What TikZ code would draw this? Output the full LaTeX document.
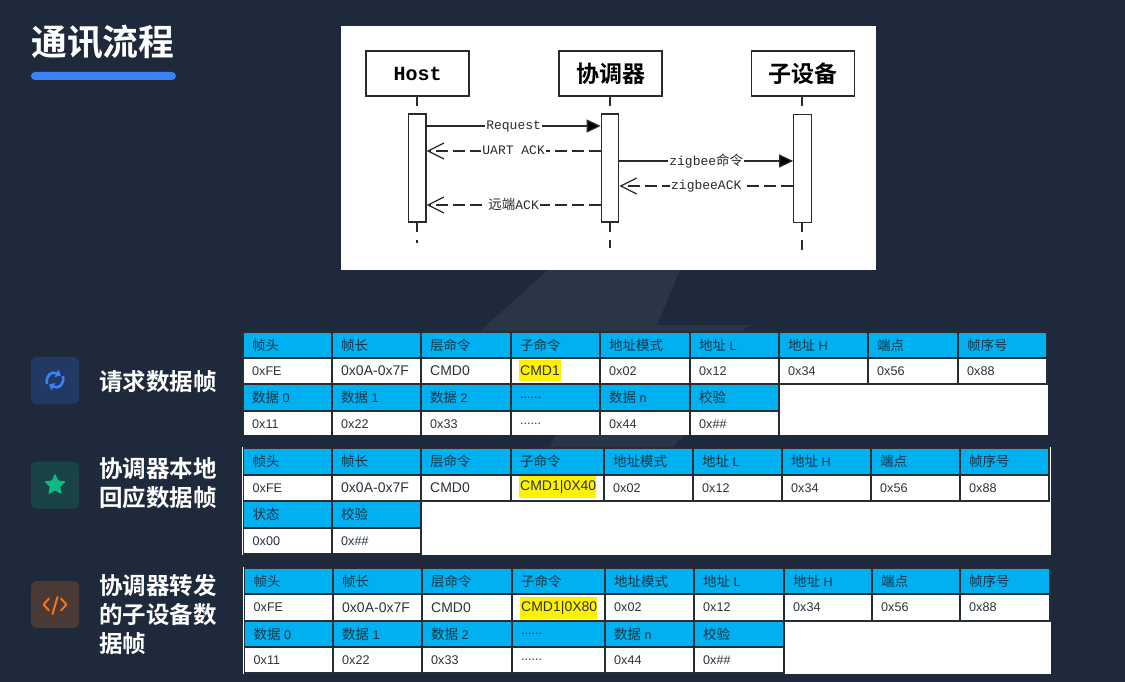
\documentclass[tikz,border=0pt]{standalone}
\usepackage{fontspec}
\setmainfont{Liberation Sans}
\newfontfamily\cjk{Noto Sans CJK SC}
\newfontfamily\cjkb{Noto Sans CJK SC Bold}
\newfontfamily\seqmono{Liberation Mono}
\usetikzlibrary{arrows.meta,shapes.geometric}
\definecolor{bgc}{HTML}{1E293B}
\definecolor{wmc}{HTML}{2A3646}
\definecolor{accent}{HTML}{3B82F6}
\definecolor{hdc}{HTML}{00B0F0}
\definecolor{cellline}{HTML}{262E33}
\definecolor{hdtext}{HTML}{153447}
\definecolor{bodytext}{HTML}{2B323C}
\definecolor{seqline}{HTML}{2A2A2A}
\definecolor{iconb}{HTML}{223A63}
\definecolor{icong}{HTML}{1A4347}
\definecolor{icono}{HTML}{4A3A35}
\definecolor{greenc}{HTML}{10B981}
\definecolor{orangec}{HTML}{F97316}
\newcommand{\hcell}[6]{%
  \draw[hcellbox] (#2,#3) rectangle (#4,#5);
  \node[celltext,text=hdtext] (#1) at (#2+9,{(#3+#5)/2}) {#6};}
\newcommand{\bcell}[6]{%
  \draw[bcellbox] (#2,#3) rectangle (#4,#5);
  \node[celltext,text=bodytext] (#1) at (#2+9,{(#3+#5)/2}) {#6};}
\newcommand{\zh}[1]{{\cjk\fontsize{13.5}{15}\selectfont #1}}
\newcommand{\widetxt}[1]{{\fontsize{14}{15}\selectfont #1}}
\tikzset{
  x=1pt,y=-1pt,
  hcellbox/.style={fill=hdc,draw=cellline,line width=1.1pt},
  bcellbox/.style={fill=white,draw=cellline,line width=1.1pt},
  celltext/.style={anchor=west,inner sep=0pt,font=\fontsize{12.6}{14}\selectfont},
  rowlabel/.style={anchor=west,inner sep=0pt,align=left,text=white,font=\cjkb\fontsize{23.5}{28.8}\selectfont},
  iconbox/.style={rounded corners=6pt,minimum width=48pt,minimum height=47pt,inner sep=0pt},
  lifebox/.style={draw=seqline,line width=1.2pt,fill=white,minimum width=103pt,minimum height=45pt,inner sep=0pt},
  actbox/.style={draw=seqline,line width=1.2pt,fill=white,minimum width=17.5pt,minimum height=108pt,inner sep=0pt},
  lifeline/.style={draw=seqline,line width=1.2pt,dash pattern=on 10pt off 8pt},
  callarrow/.style={draw=seqline,line width=1.2pt,-{Triangle[length=14pt,width=13pt,fill=black]}},
  backarrow/.style={draw=seqline,line width=1.2pt,dash pattern=on 12pt off 5pt,-{Straight Barb[length=16pt,width=16pt,line width=1.2pt]}},
  seqlabel/.style={fill=white,inner sep=1pt,text=seqline,font=\seqmono\fontsize{13}{15}\selectfont},
  syncarrow/.style={draw=accent,line width=2.6pt,-{Triangle[length=5pt,width=8pt]}},
}
\begin{document}
\begin{tikzpicture}
\useasboundingbox (0,0) rectangle (1125,682);
\fill[bgc] (0,0) rectangle (1125,682);
% watermark
\fill[wmc] (480,331) -- (548,270) -- (680,270) -- (657,325) -- (750,325) -- (742,331) -- cycle;
\fill[wmc] (558,430) -- (549,450) -- (670,450) -- (688,430) -- cycle;
% title
\node[anchor=west,inner sep=0pt,text=white,font=\cjkb\fontsize{35.8}{40}\selectfont] (title) at (31,42) {通讯流程};
\node[fill=accent,rounded corners=4pt,minimum width=145pt,minimum height=8pt,inner sep=0pt] (titlebar) at (103.5,76) {};
% sequence diagram panel
\fill[white] (341,26) rectangle (876,270);
\draw[lifeline] (417,96) -- (417,243);
\draw[lifeline] (610,96) -- (610,248);
\draw[lifeline] (802,96) -- (802,250);
\node[lifebox,font=\seqmono\bfseries\fontsize{20}{22}\selectfont,text=black] (host) at (417.5,73.5) {Host};
\node[lifebox,font=\cjkb\fontsize{23}{25}\selectfont,text=black] (coord) at (610.5,73.5) {协调器};
\node[lifebox,font=\cjkb\fontsize{23}{25}\selectfont,text=black] (sub) at (803,73.5) {子设备};
\node[actbox] (a1) at (417.25,168) {};
\node[actbox] (a2) at (610,168) {};
\node[actbox] (a3) at (802.5,168.5) {};
\draw[callarrow] (a1.east |- 0,126) -- node[seqlabel,yshift=-0.5pt] (l1) {Request} (a2.west |- 0,126);
\draw[backarrow] (a2.west |- 0,151) -- node[seqlabel,yshift=0.5pt] (l2) {UART ACK} (a1.east |- 0,151);
\draw[callarrow] (a2.east |- 0,161) -- node[seqlabel] (l3) {zigbee{\cjk\fontsize{13.5}{15}\selectfont 命令}} (a3.west |- 0,161);
\draw[backarrow] (a3.west |- 0,186) -- node[seqlabel] (l4) {zigbeeACK} (a2.east |- 0,186);
\draw[backarrow] (a2.west |- 0,205) -- node[seqlabel,yshift=0.5pt] (l5) {{\cjk\fontsize{13.5}{15}\selectfont 远端}ACK} (a1.east |- 0,205);
% row icons
\node[iconbox,fill=iconb] (ic1) at (55,380.5) {};
\draw[syncarrow] (47,384) .. controls (45.5,376) and (51,370.5) .. (61,375.5);
\draw[syncarrow] (63,376) .. controls (64.5,384) and (59,389.5) .. (49,384.5);
\node[iconbox,fill=icong] (ic2) at (55,485) {};
\node[star,star points=5,star point ratio=2.1,fill=greenc,minimum size=23pt,inner sep=0pt,rounded corners=1pt] (starico) at (55,485) {};
\node[iconbox,fill=icono] (ic3) at (55,604.5) {};
\draw[orangec,line width=2pt,line cap=round,line join=round] (49,598.5) -- (43.5,604.5) -- (49,610.5);
\draw[orangec,line width=2pt,line cap=round,line join=round] (61,598.5) -- (66.5,604.5) -- (61,610.5);
\draw[orangec,line width=2pt,line cap=round] (57.5,597) -- (52.5,614);
% row labels
\node[rowlabel] (r1) at (99,382) {请求数据帧};
\node[rowlabel] (r2) at (99,483) {协调器本地\\回应数据帧};
\node[rowlabel] (r3) at (99,614.5) {协调器转发\\的子设备数\\据帧};
% table 1
\fill[white] (242,331) rectangle (1048,435);
\hcell{a1h}{243}{332}{332}{358}{\zh{帧头}}
\hcell{a2h}{332}{332}{421}{358}{\zh{帧长}}
\hcell{a3h}{421}{332}{511}{358}{\zh{层命令}}
\hcell{a4h}{511}{332}{600}{358}{\zh{子命令}}
\hcell{a5h}{600}{332}{690}{358}{\zh{地址模式}}
\hcell{a6h}{690}{332}{779}{358}{\zh{地址} L}
\hcell{a7h}{779}{332}{868}{358}{\zh{地址} H}
\hcell{a8h}{868}{332}{958}{358}{\zh{端点}}
\hcell{a9h}{958}{332}{1047}{358}{\zh{帧序号}}
\bcell{a1b}{243}{358}{332}{384}{0xFE}
\bcell{a2b}{332}{358}{421}{384}{\widetxt{0x0A-0x7F}}
\bcell{a3b}{421}{358}{511}{384}{\widetxt{CMD0}}
\bcell{a4b}{511}{358}{600}{384}{}
\fill[yellow] (519,360) rectangle (561,381);
\node[celltext,text=bodytext] (a4c) at (520,370.5) {\widetxt{CMD1}};
\bcell{a5b}{600}{358}{690}{384}{0x02}
\bcell{a6b}{690}{358}{779}{384}{0x12}
\bcell{a7b}{779}{358}{868}{384}{0x34}
\bcell{a8b}{868}{358}{958}{384}{0x56}
\bcell{a9b}{958}{358}{1047}{384}{0x88}
\hcell{b1h}{243}{384}{332}{411}{\zh{数据} 0}
\hcell{b2h}{332}{384}{421}{411}{\zh{数据} 1}
\hcell{b3h}{421}{384}{511}{411}{\zh{数据} 2}
\hcell{b4h}{511}{384}{600}{411}{......}
\hcell{b5h}{600}{384}{690}{411}{\zh{数据} n}
\hcell{b6h}{690}{384}{779}{411}{\zh{校验}}
\bcell{b1b}{243}{411}{332}{437}{0x11}
\bcell{b2b}{332}{411}{421}{437}{0x22}
\bcell{b3b}{421}{411}{511}{437}{0x33}
\bcell{b4b}{511}{411}{600}{437}{......}
\bcell{b5b}{600}{411}{690}{437}{0x44}
\bcell{b6b}{690}{411}{779}{437}{0x\#\#}
\fill[bgc] (240,435) rectangle (1050,440);
\fill[wmc] (557,435) -- (553,440) -- (680,440) -- (685,435) -- cycle;
% table 2
\fill[white] (242,447) rectangle (1051,555);
\hcell{c1h}{243.5}{448}{332}{475}{\zh{帧头}}
\hcell{c2h}{332}{448}{421}{475}{\zh{帧长}}
\hcell{c3h}{421}{448}{511}{475}{\zh{层命令}}
\hcell{c4h}{511}{448}{604}{475}{\zh{子命令}}
\hcell{c5h}{604}{448}{693}{475}{\zh{地址模式}}
\hcell{c6h}{693}{448}{782}{475}{\zh{地址} L}
\hcell{c7h}{782}{448}{871}{475}{\zh{地址} H}
\hcell{c8h}{871}{448}{960}{475}{\zh{端点}}
\hcell{c9h}{960}{448}{1049}{475}{\zh{帧序号}}
\bcell{c1b}{243.5}{475}{332}{501}{0xFE}
\bcell{c2b}{332}{475}{421}{501}{\widetxt{0x0A-0x7F}}
\bcell{c3b}{421}{475}{511}{501}{\widetxt{CMD0}}
\bcell{c4b}{511}{475}{604}{501}{}
\fill[yellow] (519,476) rectangle (596,498);
\node[celltext,text=bodytext] (c4c) at (520,487) {\widetxt{CMD1|0X40}};
\bcell{c5b}{604}{475}{693}{501}{0x02}
\bcell{c6b}{693}{475}{782}{501}{0x12}
\bcell{c7b}{782}{475}{871}{501}{0x34}
\bcell{c8b}{871}{475}{960}{501}{0x56}
\bcell{c9b}{960}{475}{1049}{501}{0x88}
\hcell{d1h}{243.5}{501}{332}{528}{\zh{状态}}
\hcell{d2h}{332}{501}{421}{528}{\zh{校验}}
\bcell{d1b}{243.5}{528}{332}{554}{0x00}
\bcell{d2b}{332}{528}{421}{554}{0x\#\#}
% table 3
\fill[white] (243,567) rectangle (1051,674);
\hcell{e1h}{244.5}{568}{333}{594}{\zh{帧头}}
\hcell{e2h}{333}{568}{422}{594}{\zh{帧长}}
\hcell{e3h}{422}{568}{512}{594}{\zh{层命令}}
\hcell{e4h}{512}{568}{605}{594}{\zh{子命令}}
\hcell{e5h}{605}{568}{694}{594}{\zh{地址模式}}
\hcell{e6h}{694}{568}{784}{594}{\zh{地址} L}
\hcell{e7h}{784}{568}{872}{594}{\zh{地址} H}
\hcell{e8h}{872}{568}{960}{594}{\zh{端点}}
\hcell{e9h}{960}{568}{1050}{594}{\zh{帧序号}}
\bcell{e1b}{244.5}{594}{333}{621}{0xFE}
\bcell{e2b}{333}{594}{422}{621}{\widetxt{0x0A-0x7F}}
\bcell{e3b}{422}{594}{512}{621}{\widetxt{CMD0}}
\bcell{e4b}{512}{594}{605}{621}{}
\fill[yellow] (520,597) rectangle (597,619);
\node[celltext,text=bodytext] (e4c) at (521,607.5) {\widetxt{CMD1|0X80}};
\bcell{e5b}{605}{594}{694}{621}{0x02}
\bcell{e6b}{694}{594}{784}{621}{0x12}
\bcell{e7b}{784}{594}{872}{621}{0x34}
\bcell{e8b}{872}{594}{960}{621}{0x56}
\bcell{e9b}{960}{594}{1050}{621}{0x88}
\hcell{f1h}{244.5}{621}{333}{647}{\zh{数据} 0}
\hcell{f2h}{333}{621}{422}{647}{\zh{数据} 1}
\hcell{f3h}{422}{621}{512}{647}{\zh{数据} 2}
\hcell{f4h}{512}{621}{605}{647}{......}
\hcell{f5h}{605}{621}{694}{647}{\zh{数据} n}
\hcell{f6h}{694}{621}{784}{647}{\zh{校验}}
\bcell{f1b}{244.5}{647}{333}{673}{0x11}
\bcell{f2b}{333}{647}{422}{673}{0x22}
\bcell{f3b}{422}{647}{512}{673}{0x33}
\bcell{f4b}{512}{647}{605}{673}{......}
\bcell{f5b}{605}{647}{694}{673}{0x44}
\bcell{f6b}{694}{647}{784}{673}{0x\#\#}
\end{tikzpicture}
\end{document}
